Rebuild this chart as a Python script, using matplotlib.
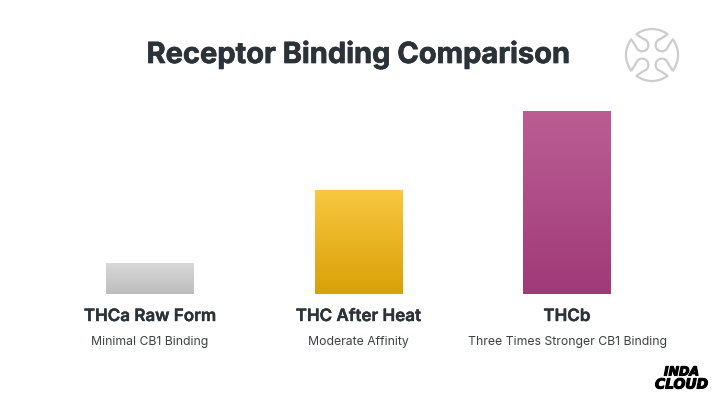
import numpy as np
import matplotlib
matplotlib.use("Agg")
import matplotlib.pyplot as plt
import matplotlib.patheffects as pe
from matplotlib.colors import LinearSegmentedColormap
from matplotlib.patches import Arc

W, H = 717, 400
title = "Receptor Binding Comparison"
categories = ["THCa Raw Form", "THC After Heat", "THCb"]
subtitles = ["Minimal CB1 Binding", "Moderate Affinity", "Three Times Stronger CB1 Binding"]
values = [31, 104, 183]
top_colors = ["#dadada", "#f8c83f", "#bb5e94"]
bottom_colors = ["#bcbcbc", "#d9a008", "#a03a78"]
DARK = "#2b3238"
plt.rcParams["font.family"] = ["Inter", "DejaVu Sans"]

fig = plt.figure(figsize=(W / 100, H / 100), dpi=100, facecolor="white")
ax = fig.add_axes([0, (H - 294) / H, 1, 194 / H])
ax.axis("off")
xs = np.arange(len(categories))
bars = ax.bar(xs, values, width=88 / 208.5, color="none", linewidth=0)
for bar, x, v, c0, c1 in zip(bars, xs, values, top_colors, bottom_colors):
    cmap = LinearSegmentedColormap.from_list("g", [c0, c1])
    ax.imshow(np.linspace(0, 1, 128)[:, None], cmap=cmap, aspect="auto", zorder=2,
              extent=(x - 44 / 208.5, x + 44 / 208.5, 0, v))
ax.set_xlim(-150 / 208.5, (W - 150) / 208.5)
ax.set_ylim(0, 194)
trans = ax.get_xaxis_transform()
for x, c, s in zip(xs, categories, subtitles):
    ax.annotate(c, (x, 0), xytext=(0, -22.5), textcoords="offset pixels", ha="center", va="center",
                fontsize=12.25, fontweight="semibold", color=DARK, annotation_clip=False,
                xycoords=trans, path_effects=[pe.withStroke(linewidth=0.3, foreground=DARK)])
    ax.annotate(s, (x, 0), xytext=(0, -47.5), textcoords="offset pixels", ha="center", va="center",
                fontsize=8.8, color="#3c4248", annotation_clip=False, xycoords=trans)
fig.text(358.5 / W, 1 - 55 / H, title, ha="center", va="center", fontsize=20.9,
         fontweight="bold", color=DARK, path_effects=[pe.withStroke(linewidth=0.5, foreground=DARK)])

ov = fig.add_axes([0, 0, 1, 1], facecolor="none")
ov.set_xlim(0, W)
ov.set_ylim(H, 0)
ov.axis("off")
cx, cy, R = 652, 55, 26
GREY = "#cdcdcd"
GAP = 8
for k in range(4):
    a = 45 + 90 * k
    ov.add_patch(Arc((cx, cy), 2 * R, 2 * R, theta1=a + GAP, theta2=a + 90 - GAP, color=GREY, lw=1.6))
    ar = np.radians(a)
    d = np.array([np.cos(ar), np.sin(ar)])
    n = np.array([-d[1], d[0]])
    c = np.array([cx, cy]) + d * 14
    ov.add_patch(Arc(tuple(c), 12.5, 12.5, theta1=a + 60, theta2=a + 300, color=GREY, lw=1.6))
    for sgn in (-1, 1):
        t = np.radians(60) * sgn
        p0 = c + 6.25 * (np.cos(t) * d + np.sin(t) * n)
        p1 = np.array([cx, cy]) + R * np.array([np.cos(ar + sgn * np.radians(GAP)), np.sin(ar + sgn * np.radians(GAP))])
        ov.plot([p0[0], p1[0]], [p0[1], p1[1]], color=GREY, lw=1.6, solid_capstyle="round")

stroke = [pe.withStroke(linewidth=0.8, foreground="black")]
ov.text(681.5, 372, "INDA", ha="center", va="center", fontsize=9, fontweight="bold",
        style="italic", family="DejaVu Sans", color="black", path_effects=stroke)
ov.text(681.5, 384.5, "CLOUD", ha="center", va="center", fontsize=10, fontweight="bold",
        style="italic", family="DejaVu Sans", color="black", path_effects=stroke)
fig.savefig("out.png", dpi=100, facecolor="white")
